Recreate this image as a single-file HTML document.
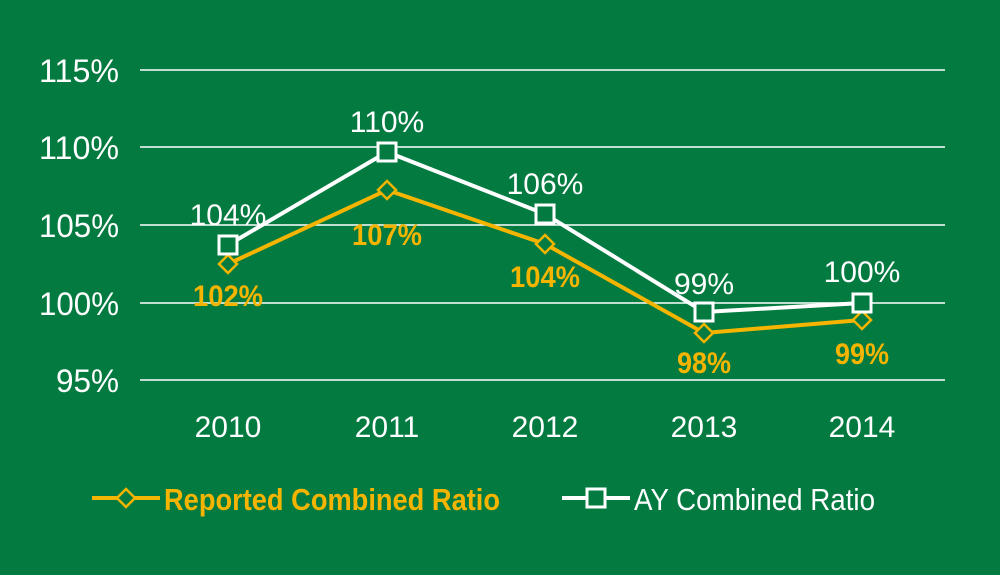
<!DOCTYPE html>
<html><head><style>
body{margin:0;background:#037b40;}
svg{display:block;}
text{font-family:"Liberation Sans Narrow","Liberation Sans",sans-serif;}
</style></head><body>
<svg width="1000" height="575" viewBox="0 0 1000 575">
<rect width="1000" height="575" fill="#037b40"/>
<g stroke="#fff" stroke-width="1.5">
<line x1="140" y1="70" x2="945" y2="70"/>
<line x1="140" y1="147" x2="945" y2="147"/>
<line x1="140" y1="225" x2="945" y2="225"/>
<line x1="140" y1="303" x2="945" y2="303"/>
<line x1="140" y1="380" x2="945" y2="380"/>
</g>
<g fill="#fff" font-size="32" text-anchor="end">
<text x="119" y="82" textLength="80" lengthAdjust="spacingAndGlyphs">115%</text>
<text x="119" y="159" textLength="80" lengthAdjust="spacingAndGlyphs">110%</text>
<text x="119" y="237" textLength="80" lengthAdjust="spacingAndGlyphs">105%</text>
<text x="119" y="315" textLength="80" lengthAdjust="spacingAndGlyphs">100%</text>
<text x="119" y="392" textLength="63" lengthAdjust="spacingAndGlyphs">95%</text>
</g>
<g fill="#fff" font-size="30" text-anchor="middle">
<text x="228" y="437">2010</text>
<text x="387" y="437">2011</text>
<text x="545" y="437">2012</text>
<text x="704" y="437">2013</text>
<text x="862" y="437">2014</text>
</g>
<polyline points="228,264 387,190 545,244 704,333 862,320" fill="none" stroke="#f5b400" stroke-width="4"/>
<g fill="#037b40" stroke="#f5b400" stroke-width="2.5">
<polygon points="228,255 237,264 228,273 219,264"/>
<polygon points="387,181 396,190 387,199 378,190"/>
<polygon points="545,235 554,244 545,253 536,244"/>
<polygon points="704,324 713,333 704,342 695,333"/>
<polygon points="862,311 871,320 862,329 853,320"/>
</g>
<polyline points="228,245 387,152 545,214 704,312 862,303" fill="none" stroke="#fff" stroke-width="4"/>
<g fill="#037b40" stroke="#fff" stroke-width="3">
<rect x="219" y="236" width="18" height="18"/>
<rect x="378" y="143" width="18" height="18"/>
<rect x="536" y="205" width="18" height="18"/>
<rect x="695" y="303" width="18" height="18"/>
<rect x="853" y="294" width="18" height="18"/>
</g>
<g fill="#fff" font-size="30" text-anchor="middle">
<text x="228" y="225">104%</text>
<text x="387" y="132">110%</text>
<text x="545" y="194">106%</text>
<text x="704" y="294">99%</text>
<text x="862" y="282">100%</text>
</g>
<g fill="#f5b400" font-size="30" font-weight="bold" text-anchor="middle">
<text x="228" y="306" textLength="70" lengthAdjust="spacingAndGlyphs">102%</text>
<text x="387" y="245" textLength="70" lengthAdjust="spacingAndGlyphs">107%</text>
<text x="545" y="287" textLength="70" lengthAdjust="spacingAndGlyphs">104%</text>
<text x="704" y="373" textLength="54" lengthAdjust="spacingAndGlyphs">98%</text>
<text x="862" y="364" textLength="54" lengthAdjust="spacingAndGlyphs">99%</text>
</g>
<line x1="92" y1="498" x2="160" y2="498" stroke="#f5b400" stroke-width="4"/>
<polygon points="126,489 135,498 126,507 117,498" fill="#037b40" stroke="#f5b400" stroke-width="2.5"/>
<text x="164" y="510" fill="#f5b400" font-size="31" font-weight="bold" textLength="336" lengthAdjust="spacingAndGlyphs">Reported Combined Ratio</text>
<line x1="562" y1="498" x2="630" y2="498" stroke="#fff" stroke-width="4"/>
<rect x="587" y="489" width="18" height="18" fill="#037b40" stroke="#fff" stroke-width="3"/>
<text x="634" y="510" fill="#fff" font-size="31" textLength="241" lengthAdjust="spacingAndGlyphs">AY Combined Ratio</text>
</svg>
</body></html>
